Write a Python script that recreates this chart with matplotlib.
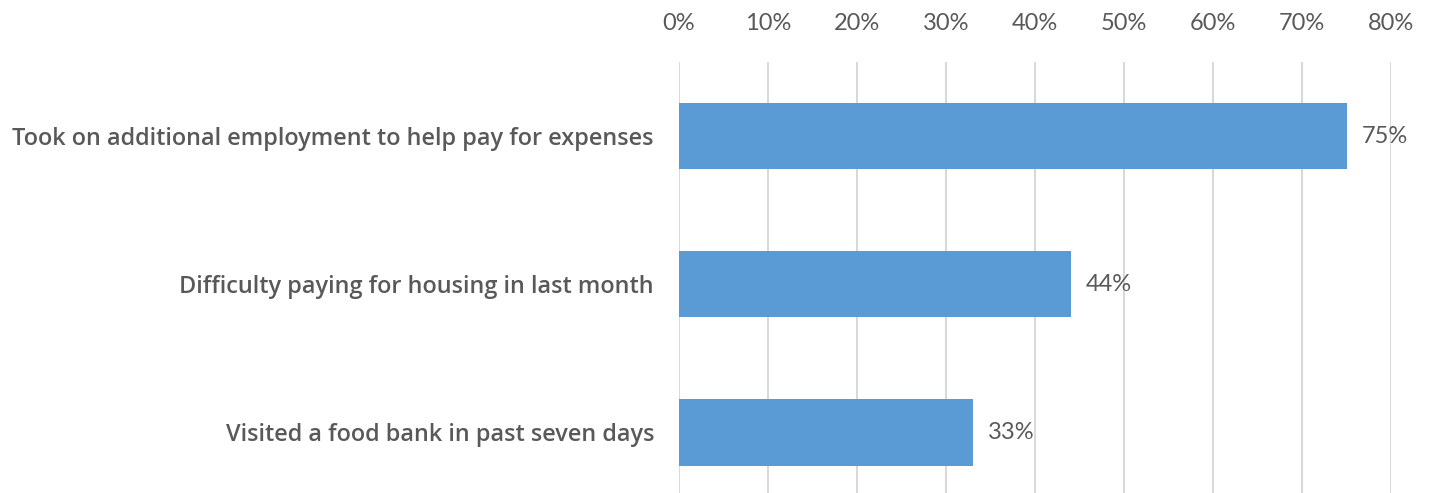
import matplotlib.pyplot as plt
from matplotlib.ticker import FuncFormatter

categories = [
    "Took on additional employment to help pay for expenses",
    "Difficulty paying for housing in last month",
    "Visited a food bank in past seven days",
]
values = [0.75, 0.44, 0.33]
value_labels = ["75%", "44%", "33%"]
ticks = [0, 0.1, 0.2, 0.3, 0.4, 0.5, 0.6, 0.7, 0.8]

plt.rcParams['font.family'] = ['Lato', 'DejaVu Sans']
text_color = '#595959'

W, H = 1431, 493
fig = plt.figure(figsize=(W / 100, H / 100), dpi=100)
ax = fig.add_axes([679 / W, 0, (1391 - 679) / W, (H - 62) / H])

y = list(range(len(categories)))
ax.barh(y, values, height=0.45, color='#5B9BD5', zorder=3)

for yi, v, lab in zip(y, values, value_labels):
    ax.annotate(lab, (v, yi), xytext=(11, 0), textcoords='offset points',
                va='center', ha='left', fontsize=17, color=text_color)

ax.set_xlim(0, 0.8)
ax.set_ylim(2.41, -0.5)
ax.set_xticks(ticks)
ax.xaxis.set_major_formatter(FuncFormatter(lambda x, p: f"{x * 100:.0f}%"))
ax.xaxis.tick_top()
ax.tick_params(axis='x', length=0, pad=20, labelsize=17, labelcolor=text_color)
ax.set_yticks(y)
ax.set_yticklabels(categories, fontsize=16.9, fontweight='semibold',
                   color=text_color, family=['Open Sans', 'DejaVu Sans'])
ax.tick_params(axis='y', length=0, pad=18)

ax.grid(axis='x', color='#D9D9D9', linewidth=1.5, zorder=0)
for s in ax.spines.values():
    s.set_visible(False)

fig.savefig('out.png', dpi=100)
